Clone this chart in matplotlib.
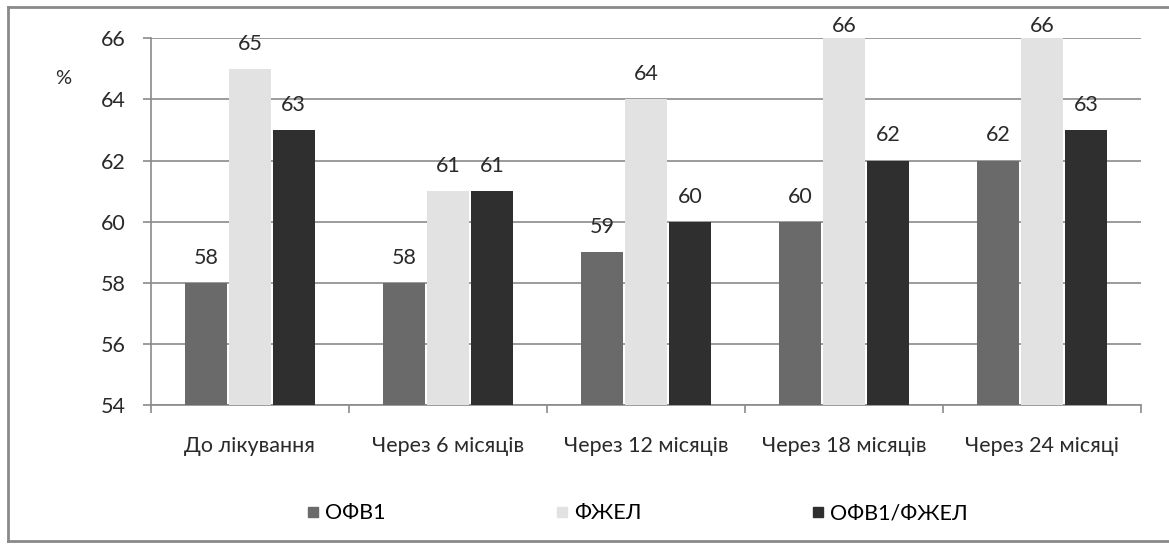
import numpy as np
import matplotlib
matplotlib.use('Agg')
import matplotlib.pyplot as plt
from matplotlib.lines import Line2D

categories = ['До лікування', 'Через 6 місяців', 'Через 12 місяців',
              'Через 18 місяців', 'Через 24 місяці']
series_names = ['ОФВ1', 'ФЖЕЛ', 'ОФВ1/ФЖЕЛ']
ofv1 = [58, 58, 59, 60, 62]
fzhel = [65, 61, 64, 66, 66]
ratio = [63, 61, 60, 62, 63]
colors = ['#6a6a6a', '#e2e2e2', '#2f2f2f']

plt.rcParams['font.family'] = ['Lato', 'DejaVu Sans']
fs = 15.5
txt = '#2a2a2a'

fig = plt.figure(figsize=(11.69, 5.46), dpi=100)
ax = fig.add_axes([0.129, 0.258, 0.847, 0.672])

x = np.arange(len(categories))
width = 0.21
step = 0.222
for k, vals in enumerate([ofv1, fzhel, ratio]):
    pos = x + (k - 1) * step
    ax.bar(pos, np.array(vals) - 54, bottom=54, width=width,
           color=colors[k], zorder=3, label=series_names[k])
    for px, v in zip(pos, vals):
        ax.text(px, min(v + 0.82, 66.4), str(v), ha='center', va='center',
                fontsize=fs, color=txt, zorder=4, clip_on=False)

ax.set_xlim(-0.5, len(categories) - 0.5)
ax.set_ylim(54, 66)
ax.set_yticks(range(54, 67, 2))
ax.yaxis.grid(True, color='#8a8a8a', linewidth=1.2, zorder=0)
ax.set_xticks(np.arange(-0.5, len(categories), 1.0))
ax.set_xticklabels([])
ax.set_xticks(x, minor=True)
ax.set_xticklabels(categories, minor=True, fontsize=fs, color=txt)
ax.tick_params(axis='x', which='minor', length=0, pad=22)
ax.tick_params(axis='x', which='major', length=6, color='#8a8a8a', width=1.2)
ax.tick_params(axis='y', length=6, color='#8a8a8a', width=1.2,
               labelsize=fs, labelcolor=txt, pad=12)
for side in ['top', 'right']:
    ax.spines[side].set_visible(False)
for side in ['left', 'bottom']:
    ax.spines[side].set_color('#8a8a8a')
    ax.spines[side].set_linewidth(1.2)

fig.text(0.054, 0.857, '%', fontsize=fs - 1, color=txt, ha='center', va='center')

handles = [Line2D([], [], marker='s', linestyle='none', markersize=7.5,
                  color=c) for c in colors]
fig.legend(handles, series_names, loc='center', bbox_to_anchor=(0.544, 0.06),
           ncol=3, frameon=False, fontsize=fs, columnspacing=7.8,
           handletextpad=0.15, handlelength=0.8)

# frame around the chart
frame_kw = dict(color='#8a8a8a', linewidth=2.0, transform=fig.transFigure)
fig.add_artist(Line2D([0.007, 1.0], [0.987, 0.987], **frame_kw))
fig.add_artist(Line2D([0.007, 0.007], [0.987, 0.01], **frame_kw))
fig.add_artist(Line2D([0.007, 1.0], [0.01, 0.01], **frame_kw))

fig.savefig('out.png', dpi=100, facecolor='white')
